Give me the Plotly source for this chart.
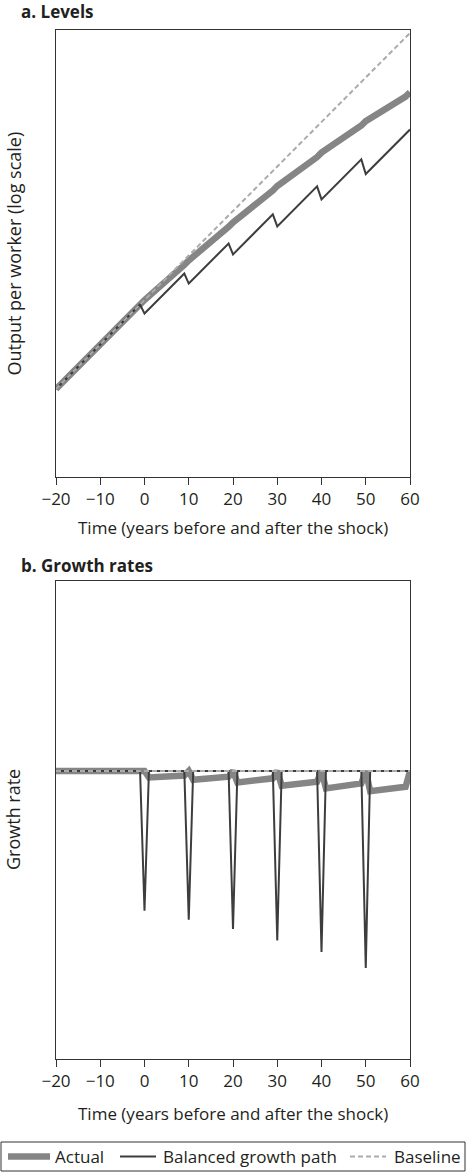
import plotly.graph_objects as go

# ---------------- data ----------------
# Panel a: log output per worker (natural-log units, baseline = 0 at t = -20)
base_years_a = [-20, 60]
base_level = [0.00, 1.60]

bgp_years_a = [-20, -1, 0, 9, 10, 19, 20, 29, 30, 39, 40, 49, 50, 60]
bgp_level = [0.00, 0.38, 0.339, 0.519, 0.474, 0.654, 0.605, 0.785, 0.731,
             0.911, 0.852, 1.032, 0.966, 1.166]

actual_years_a = [-20, 0, 9, 10, 19, 20, 29, 30, 39, 40, 49, 50, 59, 60]
actual_level = [0.00, 0.400, 0.558, 0.578, 0.729, 0.749, 0.892, 0.912,
                1.0425, 1.0625, 1.184, 1.204, 1.314, 1.334]

# Panel b: growth rate (% per year)
base_years_b = [-20, 60]
base_growth = [2.0, 2.0]

bgp_years_b = [-20, -1, 0, 1, 9, 10, 11, 19, 20, 21, 29, 30, 31, 39, 40, 41,
               49, 50, 51, 60]
bgp_growth = [2.0, 2.0, -4.1, 2.0, 2.0, -4.5, 2.0, 2.0, -4.9, 2.0, 2.0, -5.4,
              2.0, 2.0, -5.9, 2.0, 2.0, -6.6, 2.0, 2.0]

actual_years_b = [-20, 0, 1, 9, 10, 11, 19, 20, 21, 29, 30, 31, 39, 40, 41,
                  49, 50, 51, 59, 60]
actual_growth = [2.0, 2.0, 1.72, 1.80, 2.0, 1.62, 1.75, 2.0, 1.50, 1.68, 2.0,
                 1.36, 1.53, 2.0, 1.24, 1.46, 2.0, 1.12, 1.31, 2.0]

x_ticks = [-20, -10, 0, 10, 20, 30, 40, 50, 60]
series_names = ["Actual", "Balanced growth path", "Baseline"]

# ---------------- styling ----------------
FONT = "Open Sans"
TXT = "#231f20"
AX = "#333333"
C_ACT = "#858585"
C_BGP = "#3d3d3d"
C_BASE = "#ababab"
FS = 17

W, H = 466, 1173


def py(px):
    return 1 - px / H


def px_x(px):
    return px / W


fig = go.Figure()

styles = [dict(color=C_ACT, width=6.5),
          dict(color=C_BGP, width=2),
          dict(color=C_BASE, width=2, dash="5px,3px")]

panel_a = [(actual_years_a, actual_level), (bgp_years_a, bgp_level),
           (base_years_a, base_level)]
panel_b = [(actual_years_b, actual_growth), (bgp_years_b, bgp_growth),
           (base_years_b, base_growth)]

for (xs, ys), name, st in zip(panel_a, series_names, styles):
    fig.add_trace(go.Scatter(x=xs, y=ys, mode="lines", name=name, line=st,
                             xaxis="x", yaxis="y", showlegend=False))
for (xs, ys), name, st in zip(panel_b, series_names, styles):
    fig.add_trace(go.Scatter(x=xs, y=ys, mode="lines", name=name, line=st,
                             xaxis="x2", yaxis="y2", showlegend=False))

xdom = [px_x(56), px_x(410)]
xaxis_common = dict(range=[-20, 60], tickvals=x_ticks, ticks="outside",
                    ticklen=7, tickcolor=AX, tickwidth=1, showline=True,
                    linecolor=AX, linewidth=1, mirror=True, showgrid=False,
                    zeroline=False, automargin=False,
                    tickfont=dict(family=FONT, size=FS, color=TXT),
                    domain=xdom, fixedrange=True)
yaxis_common = dict(showticklabels=False, ticks="", showline=True, linecolor=AX,
                    linewidth=1, mirror=True, showgrid=False, zeroline=False,
                    automargin=False, fixedrange=True)

fig.update_layout(
    template="none",
    width=W, height=H,
    margin=dict(l=0, r=0, t=0, b=0, pad=0),
    paper_bgcolor="white", plot_bgcolor="white",
    font=dict(family=FONT, color=TXT, size=FS),
    xaxis=dict(**xaxis_common, anchor="y"),
    yaxis=dict(**yaxis_common, range=[-0.3955, 1.6135],
               domain=[py(477), py(30)], anchor="x"),
    xaxis2=dict(**xaxis_common, anchor="y2"),
    yaxis2=dict(**yaxis_common, range=[-10.58, 10.30],
                domain=[py(1059), py(581)], anchor="x2"),
    showlegend=False,
)

ann = [
    dict(text="<b>a. Levels</b>", x=px_x(19), y=py(12), xanchor="left",
         yanchor="middle", font=dict(size=17)),
    dict(text="<b>b. Growth rates</b>", x=px_x(19), y=py(565), xanchor="left",
         yanchor="middle", font=dict(size=17)),
    dict(text="Output per worker (log scale)", x=px_x(0), y=py(253.5),
         textangle=-90, xanchor="left", yanchor="middle", borderpad=0,
         font=dict(size=18)),
    dict(text="Growth rate", x=px_x(0), y=py(820), textangle=-90,
         xanchor="left", yanchor="middle", borderpad=0, font=dict(size=18)),
    dict(text="Time (years before and after the shock)", x=px_x(233),
         y=py(527), xanchor="center", yanchor="middle", font=dict(size=FS)),
    dict(text="Time (years before and after the shock)", x=px_x(233),
         y=py(1113), xanchor="center", yanchor="middle", font=dict(size=FS)),
]

# ---- legend (drawn as a framed key below panel b) ----
leg_y = py(1156.5)
shapes = [dict(type="rect", x0=px_x(1), x1=px_x(465), y0=py(1171), y1=py(1142),
               line=dict(color=AX, width=1), fillcolor="white")]
leg_items = [(8, 50, 53), (120, 156, 161), (350, 386, 392)]
for (x0, x1, tx), name, st in zip(leg_items, series_names, styles):
    ln = dict(color=st["color"], width=st["width"])
    if "dash" in st:
        ln["dash"] = st["dash"]
    shapes.append(dict(type="line", x0=px_x(x0), x1=px_x(x1), y0=leg_y,
                       y1=leg_y, line=ln))
    ann.append(dict(text=name, x=px_x(tx), y=leg_y, xanchor="left",
                    yanchor="middle", font=dict(size=FS)))

for a in ann:
    a.update(xref="paper", yref="paper", showarrow=False)
for s in shapes:
    s.update(xref="paper", yref="paper")
fig.update_layout(annotations=ann, shapes=shapes)

fig.write_html("out.html")
